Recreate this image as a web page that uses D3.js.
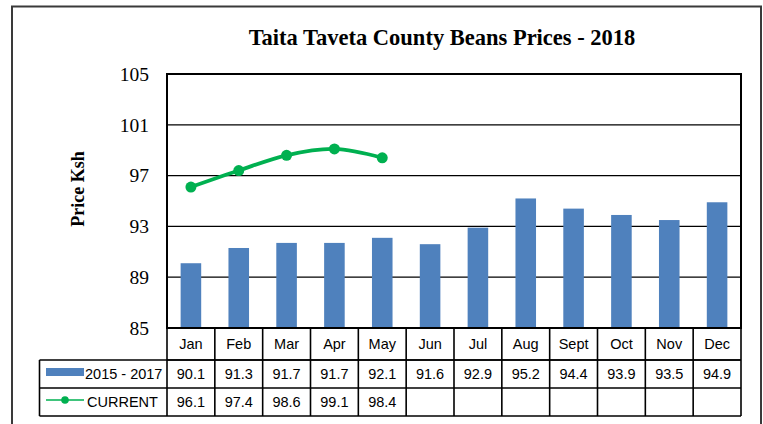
<!DOCTYPE html>
<html>
<head>
<meta charset="utf-8">
<script src="https://cdn.jsdelivr.net/npm/d3@7"></script>
<style>
  html, body { margin: 0; padding: 0; background: #fff; }
  svg { display: block; }
</style>
</head>
<body>
<svg id="chart" width="763" height="424"></svg>
<script>
// Monthly bean prices (Ksh), Taita Taveta County
const months = ["Jan","Feb","Mar","Apr","May","Jun","Jul","Aug","Sept","Oct","Nov","Dec"];
const avg2015to2017 = [90.1, 91.3, 91.7, 91.7, 92.1, 91.6, 92.9, 95.2, 94.4, 93.9, 93.5, 94.9];
const current = [96.1, 97.4, 98.6, 99.1, 98.4];
const yTicks = [85, 89, 93, 97, 101, 105];
const seriesNames = ["2015 - 2017", "CURRENT"];

const svg = d3.select("#chart");
const plot = { left: 167, right: 741, top: 74, bottom: 328 };
const table = { legendLeft: 39.5, catBottom: 360, row1Bottom: 388, row2Bottom: 416 };
const blue = "#4F81BD", green = "#00B050";
const serif = "Liberation Serif, Times New Roman, serif";
const sans = "Liberation Sans, Arial, sans-serif";
const tableFont = 14.5;

// Outer chart frame
svg.append("rect")
  .attr("x", 12).attr("y", 6.5).attr("width", 749).attr("height", 440)
  .attr("fill", "none").attr("stroke", "#3a3a3a").attr("stroke-width", 2);

// Title
svg.append("text")
  .attr("x", 442).attr("y", 45)
  .attr("text-anchor", "middle")
  .attr("font-family", serif)
  .attr("font-weight", "bold").attr("font-size", 22.5)
  .text("Taita Taveta County Beans Prices - 2018");

const x = d3.scaleBand().domain(months).range([plot.left, plot.right]).paddingInner(0).paddingOuter(0);
const y = d3.scaleLinear().domain([85, 105]).range([plot.bottom, plot.top]);

// Horizontal gridlines
svg.append("g").selectAll("line")
  .data(yTicks.filter(t => t > 85 && t < 105))
  .join("line")
  .attr("x1", plot.left).attr("x2", plot.right)
  .attr("y1", d => y(d)).attr("y2", d => y(d))
  .attr("stroke", "#000").attr("stroke-width", 1.2);

// Y axis labels
const yAxis = d3.axisLeft(y).tickValues(yTicks).tickSize(0).tickPadding(18);
const ya = svg.append("g").attr("transform", `translate(${plot.left},0)`).call(yAxis);
ya.select(".domain").remove();
ya.selectAll("text")
  .attr("font-family", serif)
  .attr("font-size", 19.5).attr("fill", "#000");

// Y axis title
svg.append("text")
  .attr("transform", `translate(84,189) rotate(-90)`)
  .attr("text-anchor", "middle")
  .attr("font-family", serif)
  .attr("font-weight", "bold").attr("font-size", 18)
  .text("Price Ksh");

// Bars: 2015-2017 average
const barW = x.bandwidth() * 0.43;
svg.append("g").selectAll("rect")
  .data(avg2015to2017)
  .join("rect")
  .attr("x", (d, i) => x(months[i]) + (x.bandwidth() - barW) / 2)
  .attr("y", d => y(d))
  .attr("width", barW)
  .attr("height", d => y(85) - y(d))
  .attr("fill", blue);

// Plot area border
svg.append("rect")
  .attr("x", plot.left).attr("y", plot.top)
  .attr("width", plot.right - plot.left).attr("height", plot.bottom - plot.top)
  .attr("fill", "none").attr("stroke", "#000").attr("stroke-width", 2);

// Current year smoothed line
const line = d3.line()
  .x((d, i) => x(months[i]) + x.bandwidth() / 2)
  .y(d => y(d))
  .curve(d3.curveCatmullRom.alpha(0.5));
svg.append("path")
  .datum(current)
  .attr("d", line)
  .attr("fill", "none").attr("stroke", green).attr("stroke-width", 3.8);
svg.append("g").selectAll("circle")
  .data(current)
  .join("circle")
  .attr("cx", (d, i) => x(months[i]) + x.bandwidth() / 2)
  .attr("cy", d => y(d))
  .attr("r", 5.5)
  .attr("fill", green);

// Data table
const tg = svg.append("g");
const stroke = (sel) => sel.attr("stroke", "#000").attr("stroke-width", 1.6);

// horizontal rules
[[plot.left, plot.right, table.catBottom],
 [table.legendLeft, plot.right, table.catBottom],
 [table.legendLeft, plot.right, table.row1Bottom],
 [table.legendLeft, plot.right, table.row2Bottom]].forEach(([x1, x2, yy]) => {
  tg.append("line").attr("x1", x1).attr("x2", x2).attr("y1", yy).attr("y2", yy).call(stroke);
});
// vertical rules
months.forEach((m) => {
  tg.append("line").attr("x1", x(m)).attr("x2", x(m))
    .attr("y1", plot.bottom).attr("y2", table.row2Bottom).call(stroke);
});
tg.append("line").attr("x1", plot.right).attr("x2", plot.right)
  .attr("y1", plot.bottom).attr("y2", table.row2Bottom).call(stroke);
tg.append("line").attr("x1", table.legendLeft).attr("x2", table.legendLeft)
  .attr("y1", table.catBottom).attr("y2", table.row2Bottom).call(stroke);

// category labels
tg.append("g").selectAll("text")
  .data(months).join("text")
  .attr("x", d => x(d) + x.bandwidth() / 2)
  .attr("y", (plot.bottom + table.catBottom) / 2 + 5)
  .attr("text-anchor", "middle")
  .attr("font-family", sans).attr("font-size", tableFont)
  .text(d => d);

// value rows
const rowMid1 = (table.catBottom + table.row1Bottom) / 2 + 5;
const rowMid2 = (table.row1Bottom + table.row2Bottom) / 2 + 5;
tg.append("g").selectAll("text")
  .data(avg2015to2017).join("text")
  .attr("x", (d, i) => x(months[i]) + x.bandwidth() / 2)
  .attr("y", rowMid1)
  .attr("text-anchor", "middle")
  .attr("font-family", sans).attr("font-size", tableFont)
  .text(d => d.toFixed(1));
tg.append("g").selectAll("text")
  .data(current).join("text")
  .attr("x", (d, i) => x(months[i]) + x.bandwidth() / 2)
  .attr("y", rowMid2)
  .attr("text-anchor", "middle")
  .attr("font-family", sans).attr("font-size", tableFont)
  .text(d => d.toFixed(1));

// legend keys inside the table
tg.append("rect")
  .attr("x", 46).attr("y", 368).attr("width", 38).attr("height", 8)
  .attr("fill", blue);
tg.append("text")
  .attr("x", 85).attr("y", rowMid1)
  .attr("font-family", sans).attr("font-size", tableFont)
  .text(seriesNames[0]);
tg.append("line")
  .attr("x1", 46).attr("x2", 84).attr("y1", 400).attr("y2", 400)
  .attr("stroke", green).attr("stroke-width", 1.6);
tg.append("circle")
  .attr("cx", 65).attr("cy", 400).attr("r", 3.8).attr("fill", green);
tg.append("text")
  .attr("x", 87).attr("y", rowMid2)
  .attr("font-family", sans).attr("font-size", tableFont)
  .text(seriesNames[1]);
</script>
</body>
</html>
